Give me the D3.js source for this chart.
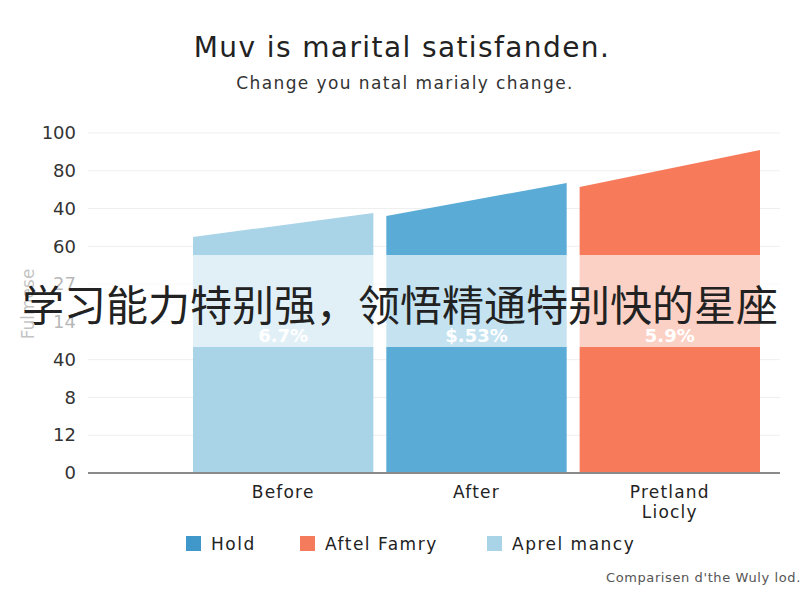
<!DOCTYPE html>
<html lang="en">

<head>
    <meta charset="UTF-8">
    <style>
        body { margin: 0; background: #fff; }
        svg { font-family: "DejaVu Sans", "Liberation Sans", sans-serif; }
    </style>
</head>

<body>
    <svg width="800" height="600"></svg>
    <script src="https://d3js.org/d3.v7.min.js"></script>
    <script>
        // data
        let categories = ["Before", "After", "Pretland\nLiocly"]
        let startValues = [69.4, 75.6, 84.1]   // left edge of each slanted bar
        let endValues = [76.5, 85.3, 95.0]     // right edge
        let valueLabels = ["6.7%", "$.53%", "5.9%"]
        let barColors = ["#a9d3e7", "#5aabd6", "#f77b5a"]
        let tickLabels = ["0", "12", "8", "40", "14", "27", "60", "40", "80", "100"]
        let legendNames = ["Hold", "Aftel Famry", "Aprel mancy"]
        let legendColors = ["#3f98c9", "#f47b5c", "#a9d3e7"]

        let svg = d3.select("svg")

        let x = d3.scaleBand()
            .domain(categories)
            .range([193, 760])
            .paddingInner(0.067)
            .paddingOuter(0)

        let y = d3.scaleLinear()
            .domain([0, 100])
            .range([473, 133])

        let tickVals = tickLabels.map((d, i) => i * 100 / (tickLabels.length - 1))

        // grid
        svg.append("g")
            .selectAll("line")
            .data(tickVals)
            .join("line")
            .attr("x1", 88).attr("x2", 780)
            .attr("y1", d => y(d)).attr("y2", d => y(d))
            .attr("stroke", "#efefef")
            .attr("stroke-width", 1)

        // y axis labels
        let yAxis = d3.axisLeft(y)
            .tickValues(tickVals)
            .tickFormat((d, i) => tickLabels[i])
            .tickSize(0)
            .tickPadding(0)
        svg.append("g")
            .attr("transform", "translate(76,0)")
            .call(yAxis)
            .call(g => g.select(".domain").remove())
            .selectAll("text")
            .attr("font-size", 18)
            .attr("fill", "#333")
            .attr("font-family", "'DejaVu Sans', sans-serif")

        // slanted bars
        let bars = categories.map((c, i) => ({ c: c, s: startValues[i], e: endValues[i], i: i }))
        svg.append("g")
            .selectAll("path")
            .data(bars)
            .join("path")
            .attr("fill", d => barColors[d.i])
            .attr("d", d => {
                let x0 = x(d.c), x1 = x(d.c) + x.bandwidth()
                return "M" + x0 + "," + y(0) + "L" + x0 + "," + y(d.s) +
                    "L" + x1 + "," + y(d.e) + "L" + x1 + "," + y(0) + "Z"
            })

        // value labels inside bars
        svg.append("g")
            .selectAll("text")
            .data(bars)
            .join("text")
            .attr("x", d => x(d.c) + x.bandwidth() / 2)
            .attr("y", 342)
            .attr("text-anchor", "middle")
            .attr("font-size", 18)
            .attr("font-weight", "bold")
            .attr("fill", "#fff")
            .text(d => valueLabels[d.i])

        // baseline
        svg.append("line")
            .attr("x1", 88).attr("x2", 780)
            .attr("y1", y(0)).attr("y2", y(0))
            .attr("stroke", "#8a8a8a")
            .attr("stroke-width", 2)

        // x labels
        let xl = svg.append("g")
            .selectAll("text")
            .data(categories)
            .join("text")
            .attr("x", d => x(d) + x.bandwidth() / 2)
            .attr("y", 498)
            .attr("text-anchor", "middle")
            .attr("font-size", 17)
            .attr("letter-spacing", 1.2)
            .attr("fill", "#222")
        xl.selectAll("tspan")
            .data(d => d.split("\n"))
            .join("tspan")
            .attr("x", function () { return d3.select(this.parentNode).attr("x") })
            .attr("dy", (d, i) => i ? 20 : 0)
            .text(d => d)

        // y axis title
        svg.append("text")
            .attr("transform", "translate(34,304) rotate(-90)")
            .attr("text-anchor", "middle")
            .attr("font-size", 17)
            .attr("fill", "#555")
            .text("Fulmese")

        // titles
        svg.append("text")
            .attr("x", 402).attr("y", 57)
            .attr("text-anchor", "middle")
            .attr("font-size", 28)
            .attr("letter-spacing", 1.4)
            .attr("fill", "#222")
            .text("Muv is marital satisfanden.")
        svg.append("text")
            .attr("x", 405).attr("y", 89)
            .attr("text-anchor", "middle")
            .attr("font-size", 17)
            .attr("letter-spacing", 1.4)
            .attr("fill", "#333")
            .text("Change you natal marialy change.")

        // legend
        let legendX = [186, 300, 487]
        let lg = svg.append("g")
            .selectAll("g")
            .data(legendNames)
            .join("g")
            .attr("transform", (d, i) => "translate(" + legendX[i] + ",536)")
        lg.append("rect")
            .attr("width", 15).attr("height", 15)
            .attr("fill", (d, i) => legendColors[i])
        lg.append("text")
            .attr("x", 25).attr("y", 14)
            .attr("font-size", 17)
            .attr("letter-spacing", 1.5)
            .attr("fill", "#222")
            .text(d => d)

        // footer
        svg.append("text")
            .attr("x", 606).attr("y", 582)
            .attr("font-size", 13)
            .attr("letter-spacing", 0.6)
            .attr("fill", "#555")
            .text("Comparisen d'the Wuly lod.")

        // overlay banner
        svg.append("rect")
            .attr("x", 0).attr("y", 255)
            .attr("width", 800).attr("height", 92)
            .attr("fill", "#fff")
            .attr("opacity", 0.65)
        svg.append("text")
            .attr("x", 400).attr("y", 321)
            .attr("text-anchor", "middle")
            .attr("font-family", "'Noto Sans CJK SC', sans-serif")
            .attr("font-size", 42)
            .attr("fill", "#222")
            .text("学习能力特别强，领悟精通特别快的星座")
    </script>
</body>

</html>
